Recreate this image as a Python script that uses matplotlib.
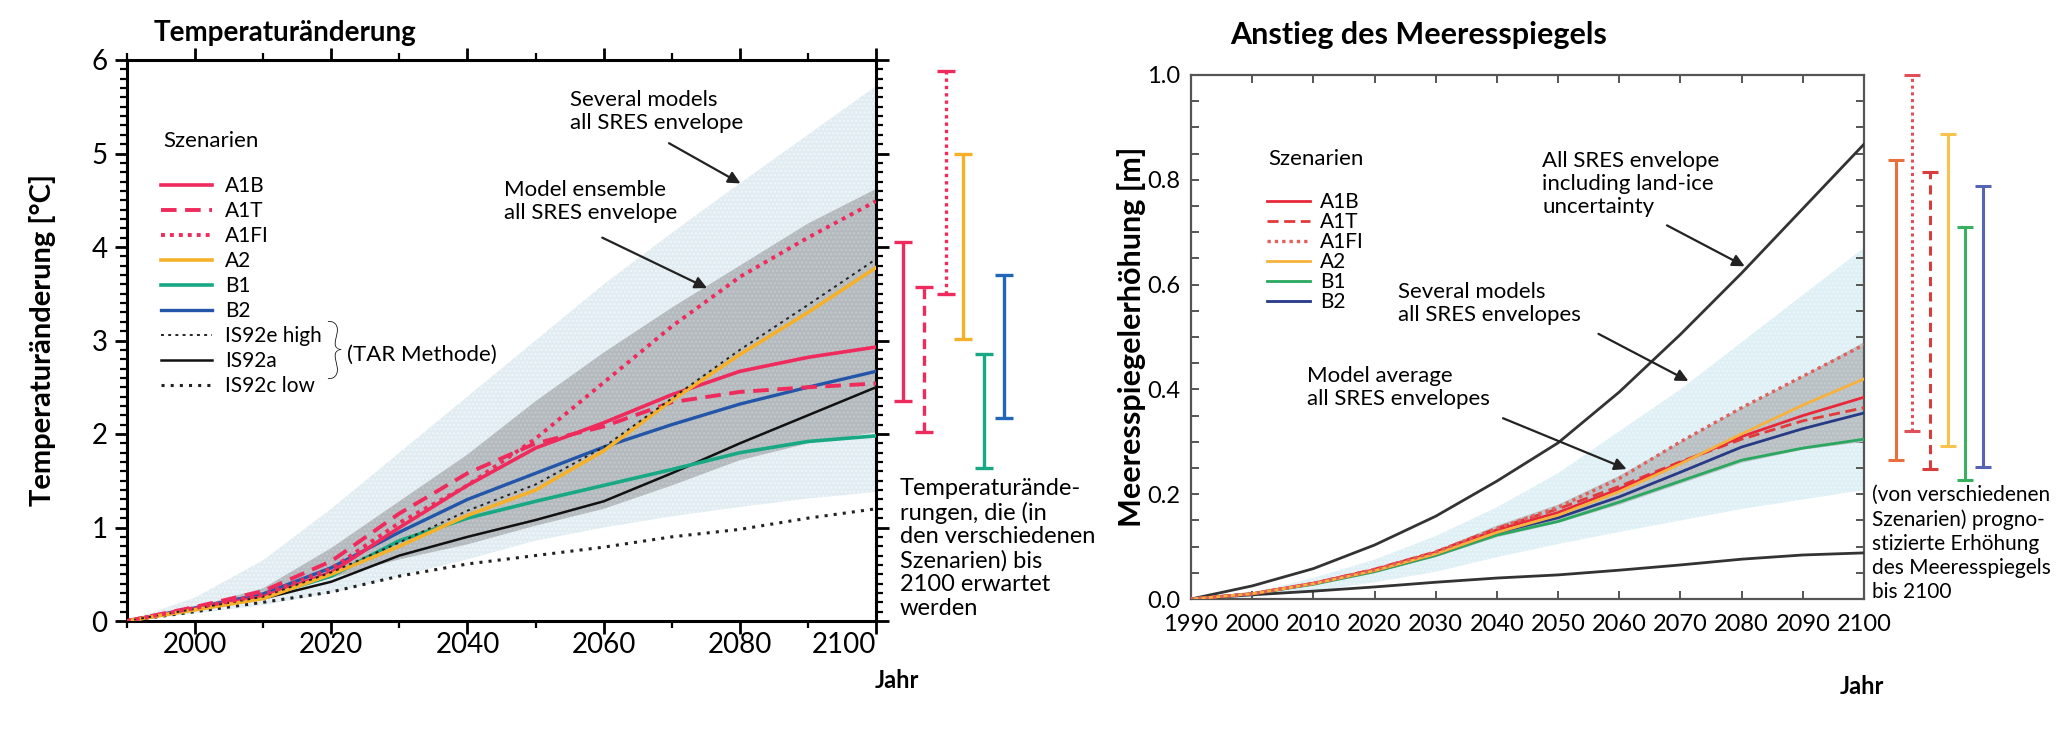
import matplotlib
matplotlib.use("Agg")
import matplotlib.pyplot as plt
from matplotlib.lines import Line2D
from matplotlib.ticker import MultipleLocator, FormatStrFormatter

plt.rcParams['font.family'] = ['Lato', 'DejaVu Sans']
plt.rcParams['hatch.linewidth'] = 1.2

# ---------------- data ----------------
years = [1990, 2000, 2010, 2020, 2030, 2040, 2050, 2060, 2070, 2080, 2090, 2100]

# temperature change [degC]
t_a1b = [0, 0.13, 0.26, 0.52, 1.00, 1.45, 1.85, 2.12, 2.42, 2.67, 2.82, 2.93]
t_a1t = [0, 0.15, 0.32, 0.64, 1.15, 1.58, 1.90, 2.08, 2.34, 2.45, 2.50, 2.54]
t_a1fi = [0, 0.14, 0.28, 0.56, 1.05, 1.45, 1.95, 2.55, 3.15, 3.68, 4.10, 4.49]
t_a2 = [0, 0.12, 0.24, 0.50, 0.80, 1.13, 1.40, 1.82, 2.36, 2.85, 3.30, 3.78]
t_b1 = [0, 0.13, 0.26, 0.48, 0.86, 1.10, 1.28, 1.45, 1.62, 1.80, 1.92, 1.98]
t_b2 = [0, 0.14, 0.29, 0.57, 0.95, 1.30, 1.58, 1.86, 2.10, 2.32, 2.50, 2.67]
t_is92e = [0, 0.13, 0.26, 0.52, 0.84, 1.18, 1.46, 1.86, 2.38, 2.90, 3.38, 3.87]
t_is92a = [0, 0.12, 0.24, 0.42, 0.70, 0.90, 1.08, 1.28, 1.58, 1.90, 2.20, 2.50]
t_is92c = [0, 0.10, 0.20, 0.31, 0.48, 0.61, 0.70, 0.79, 0.90, 0.98, 1.10, 1.20]
t_light_hi = [0, 0.25, 0.65, 1.20, 1.80, 2.40, 3.00, 3.60, 4.15, 4.68, 5.20, 5.72]
t_light_lo = [0, 0.08, 0.17, 0.30, 0.48, 0.66, 0.86, 1.00, 1.12, 1.22, 1.31, 1.38]
t_grey_hi = [0, 0.15, 0.35, 0.78, 1.28, 1.78, 2.35, 2.87, 3.35, 3.80, 4.25, 4.62]
t_grey_lo = [0, 0.12, 0.25, 0.46, 0.66, 0.82, 1.02, 1.20, 1.45, 1.72, 1.90, 2.02]

# 2100 ranges, temperature
t_scen = ['A1B', 'A1T', 'A1FI', 'A2', 'B1', 'B2']
t_range_lo = [2.35, 2.02, 3.50, 3.02, 1.64, 2.17]
t_range_hi = [4.05, 3.57, 5.88, 5.00, 2.86, 3.70]

# sea level rise [m]
s_a1b = [0, 0.010, 0.030, 0.056, 0.089, 0.132, 0.165, 0.210, 0.260, 0.310, 0.350, 0.385]
s_a1t = [0, 0.010, 0.030, 0.057, 0.090, 0.135, 0.172, 0.215, 0.262, 0.305, 0.340, 0.365]
s_a1fi = [0, 0.010, 0.030, 0.056, 0.090, 0.135, 0.175, 0.230, 0.300, 0.365, 0.425, 0.485]
s_a2 = [0, 0.010, 0.029, 0.054, 0.086, 0.127, 0.160, 0.205, 0.258, 0.315, 0.370, 0.420]
s_b1 = [0, 0.010, 0.028, 0.052, 0.083, 0.122, 0.148, 0.185, 0.225, 0.265, 0.288, 0.305]
s_b2 = [0, 0.010, 0.029, 0.054, 0.086, 0.127, 0.155, 0.195, 0.242, 0.290, 0.325, 0.355]
s_landice_hi = [0, 0.025, 0.058, 0.103, 0.158, 0.225, 0.298, 0.395, 0.505, 0.622, 0.745, 0.868]
s_landice_lo = [0, 0.008, 0.015, 0.023, 0.032, 0.040, 0.046, 0.055, 0.065, 0.076, 0.084, 0.088]
s_light_hi = [0, 0.012, 0.040, 0.075, 0.120, 0.175, 0.240, 0.320, 0.400, 0.490, 0.580, 0.670]
s_light_lo = [0, 0.004, 0.015, 0.032, 0.052, 0.080, 0.105, 0.128, 0.150, 0.172, 0.190, 0.208]
s_grey_hi = [0, 0.011, 0.031, 0.058, 0.092, 0.140, 0.180, 0.235, 0.300, 0.365, 0.425, 0.490]
s_grey_lo = [0, 0.009, 0.027, 0.050, 0.080, 0.118, 0.145, 0.180, 0.220, 0.260, 0.285, 0.300]

# 2100 ranges, sea level (order as drawn right of the panel)
s_scen = ['A1B', 'A1FI', 'A1T', 'A2', 'B1', 'B2']
s_range_lo = [0.265, 0.320, 0.248, 0.292, 0.228, 0.252]
s_range_hi = [0.838, 1.000, 0.814, 0.887, 0.709, 0.789]

# ---------------- styles ----------------
red = '#ef2a5c'
t_style = {
    'A1B': dict(color=red, ls='-', lw=2.6),
    'A1T': dict(color=red, ls=(0, (4, 2.2)), lw=2.8),
    'A1FI': dict(color=red, ls=(0, (1, 1.3)), lw=2.8),
    'A2': dict(color='#f6b12a', ls='-', lw=2.6),
    'B1': dict(color='#18a884', ls='-', lw=2.6),
    'B2': dict(color='#2356a8', ls='-', lw=2.4),
    'IS92e high': dict(color='#222222', ls=(0, (1.5, 2.2)), lw=1.4),
    'IS92a': dict(color='#111111', ls='-', lw=1.8),
    'IS92c low': dict(color='#222222', ls=(0, (1, 2)), lw=2.2),
}
s_style = {
    'A1B': dict(color='#e8283a', ls='-', lw=2.0),
    'A1T': dict(color='#e03a3a', ls=(0, (4, 2)), lw=2.0),
    'A1FI': dict(color='#e0605c', ls=(0, (1, 1.2)), lw=2.4),
    'A2': dict(color='#f6b23c', ls='-', lw=2.0),
    'B1': dict(color='#2aa860', ls='-', lw=2.0),
    'B2': dict(color='#263a86', ls='-', lw=2.0),
}
t_bar_style = {
    'A1B': dict(color=red, ls='-'),
    'A1T': dict(color=red, ls=(0, (3, 2))),
    'A1FI': dict(color=red, ls=(0, (1, 1.2))),
    'A2': dict(color='#f6b12a', ls='-'),
    'B1': dict(color='#18a884', ls='-'),
    'B2': dict(color='#2366b8', ls='-'),
}
s_bar_style = {
    'A1B': dict(color='#e8703c', ls='-'),
    'A1FI': dict(color='#e0505a', ls=(0, (1, 1.2))),
    'A1T': dict(color='#d83c3c', ls=(0, (3, 2))),
    'A2': dict(color='#f8c24e', ls='-'),
    'B1': dict(color='#38b060', ls='-'),
    'B2': dict(color='#5664b4', ls='-'),
}
# x positions (years) of the 2100 range bars, outside the axes
t_bar_x = [2104.0, 2107.1, 2110.3, 2112.8, 2115.9, 2118.8]
s_bar_x = [2105.2, 2107.8, 2110.8, 2113.7, 2116.5, 2119.5]

FS = 16
W, H = 2059, 736
fig = plt.figure(figsize=(W / 100, H / 100), dpi=100)
arrow = dict(arrowstyle='-|>', color='#222', lw=1.6, mutation_scale=18, shrinkA=0, shrinkB=0)

# ================= left panel =================
ax1 = fig.add_axes([127 / W, 1 - 621 / H, 749 / W, 561 / H])
ax1.set_xlim(1990, 2100)
ax1.set_ylim(0, 6)

ax1.fill_between(years, t_light_lo, t_light_hi, facecolor='#e0ecf1',
                 edgecolor='#f0f6f8', hatch='....', linewidth=0, zorder=1)
ax1.fill_between(years, t_grey_lo, t_grey_hi, facecolor='#b3b9bd',
                 edgecolor='#c3c8cb', hatch='....', linewidth=0, zorder=2)

t_series = [('IS92c low', t_is92c), ('IS92a', t_is92a), ('B1', t_b1), ('B2', t_b2),
            ('A1B', t_a1b), ('A1T', t_a1t), ('A2', t_a2), ('IS92e high', t_is92e),
            ('A1FI', t_a1fi)]
for name, vals in t_series:
    st = t_style[name]
    ax1.plot(years, vals, color=st['color'], linestyle=st['ls'], lw=st['lw'], zorder=3)

for xb, name, lo, hi in zip(t_bar_x, t_scen, t_range_lo, t_range_hi):
    st = t_bar_style[name]
    ax1.vlines(xb, lo, hi, colors=st['color'], linestyles=[st['ls']], lw=2.4, clip_on=False)
    ax1.plot([xb, xb], [lo, hi], ls='none', marker='_', ms=13, mew=2.4,
             color=st['color'], clip_on=False)

for s in ax1.spines.values():
    s.set_linewidth(2.2)
ax1.set_xticks(range(2000, 2101, 20))
ax1.xaxis.set_minor_locator(MultipleLocator(10))
ax1.yaxis.set_minor_locator(MultipleLocator(0.1))
ax1.tick_params(which='major', direction='out', length=9, width=2, labelsize=20,
                top=True, right=True)
ax1.tick_params(which='minor', direction='out', length=5, width=1.6,
                top=True, right=True)
ax1.tick_params(axis='x', which='major', pad=-1)
ax1.tick_params(axis='y', which='major', pad=5)
ax1.get_xticklabels()[-1].set_horizontalalignment('right')
ax1.set_ylabel('Temperaturänderung [°C]', fontsize=21, fontweight='bold')
ax1.yaxis.set_label_coords(-0.095, 0.5)

handles = [Line2D([], [], color=t_style[n]['color'], linestyle=t_style[n]['ls'],
                  lw=t_style[n]['lw']) for n in t_style]
ax1.legend(handles, list(t_style), loc='upper left', bbox_to_anchor=(0.046, 0.793),
           frameon=False, fontsize=15, handlelength=2.45, handletextpad=0.6,
           labelspacing=0.24, borderpad=0, borderaxespad=0)
ax1.text(1995.3, 5.13, 'Szenarien', fontsize=FS, va='center', ha='left')
ax1.text(2020.3, 2.86, '}', fontsize=48, fontweight='light', va='center', ha='center',
         color='black')
ax1.text(2022.3, 2.85, '(TAR Methode)', fontsize=FS, va='center', ha='left')

ax1.text(2055.1, 5.68, 'Several models\nall SRES envelope', fontsize=FS, va='top', linespacing=1.2)
ax1.annotate('', xy=(2080.1, 4.68), xytext=(2069.6, 5.11), arrowprops=arrow)
ax1.text(2045.3, 4.72, 'Model ensemble\nall SRES envelope', fontsize=FS, va='top', linespacing=1.2)
ax1.annotate('', xy=(2075.2, 3.56), xytext=(2059.8, 4.10), arrowprops=arrow)

fig.text(900 / W, 1 - 478 / H,
         'Temperaturände-\nrungen, die (in\nden verschiedenen\nSzenarien) bis\n2100 erwartet\nwerden',
         fontsize=17, va='top', ha='left', linespacing=1.15)
fig.text(154 / W, 1 - 33 / H, 'Temperaturänderung', fontsize=20, fontweight='bold',
         va='center', ha='left')
fig.text(897 / W, 1 - 680 / H, 'Jahr', fontsize=17, fontweight='bold', va='center', ha='center')

# ================= right panel =================
ax2 = fig.add_axes([1191 / W, 1 - 599 / H, 673 / W, 524 / H])
ax2.set_xlim(1990, 2100)
ax2.set_ylim(0, 1.0)

ax2.fill_between(years, s_light_lo, s_light_hi, facecolor='#def0f5',
                 edgecolor='#ebf6f9', hatch='....', linewidth=0, zorder=1)
ax2.fill_between(years, s_grey_lo, s_grey_hi, facecolor='#b9c0c4',
                 edgecolor='#c6ccce', hatch='....', linewidth=0, zorder=2)
ax2.plot(years, s_landice_hi, color='#333', lw=2.0, zorder=3)
ax2.plot(years, s_landice_lo, color='#333', lw=2.0, zorder=3)

s_series = [('B1', s_b1), ('B2', s_b2), ('A1T', s_a1t), ('A1B', s_a1b), ('A2', s_a2),
            ('A1FI', s_a1fi)]
for name, vals in s_series:
    st = s_style[name]
    ax2.plot(years, vals, color=st['color'], linestyle=st['ls'], lw=st['lw'], zorder=4)

for xb, name, lo, hi in zip(s_bar_x, s_scen, s_range_lo, s_range_hi):
    st = s_bar_style[name]
    ax2.vlines(xb, lo, hi, colors=st['color'], linestyles=[st['ls']], lw=2.2, clip_on=False)
    ax2.plot([xb, xb], [lo, hi], ls='none', marker='_', ms=11, mew=2.2,
             color=st['color'], clip_on=False)

for s in ax2.spines.values():
    s.set_linewidth(1.6)
    s.set_color('#555555')
ax2.set_xticks(range(1990, 2101, 10))
ax2.yaxis.set_major_locator(MultipleLocator(0.2))
ax2.yaxis.set_minor_locator(MultipleLocator(0.05))
ax2.yaxis.set_major_formatter(FormatStrFormatter('%.1f'))
ax2.tick_params(which='both', direction='in', length=6, width=1.4, color='#555555',
                labelsize=17, top=True, right=True)
ax2.tick_params(axis='x', pad=11)
ax2.tick_params(axis='y', pad=8)
ax2.set_ylabel('Meeresspiegelerhöhung [m]', fontsize=22, fontweight='bold')
ax2.yaxis.set_label_coords(-0.067, 0.5)

handles2 = [Line2D([], [], color=s_style[n]['color'], linestyle=s_style[n]['ls'],
                   lw=s_style[n]['lw']) for n in s_style]
ax2.legend(handles2, list(s_style), loc='upper left', bbox_to_anchor=(0.113, 0.776),
           frameon=False, fontsize=15, handlelength=2.05, handletextpad=0.5,
           labelspacing=0.0, borderpad=0, borderaxespad=0)
ax2.text(2002.6, 0.84, 'Szenarien', fontsize=FS, va='center', ha='left')

ax2.text(2047.4, 0.855, 'All SRES envelope\nincluding land-ice\nuncertainty', fontsize=FS,
         va='top', linespacing=1.2)
ax2.annotate('', xy=(2080.5, 0.635), xytext=(2067.8, 0.713), arrowprops=arrow)
ax2.text(2023.9, 0.605, 'Several models\nall SRES envelopes', fontsize=FS, va='top',
         linespacing=1.2)
ax2.annotate('', xy=(2071.3, 0.416), xytext=(2056.6, 0.506), arrowprops=arrow)
ax2.text(2008.9, 0.445, 'Model average\nall SRES envelopes', fontsize=FS, va='top',
         linespacing=1.2)
ax2.annotate('', xy=(2061.2, 0.248), xytext=(2041.0, 0.345), arrowprops=arrow)

fig.text(1872 / W, 1 - 485 / H,
         '(von verschiedenen\nSzenarien) progno-\nstizierte Erhöhung\ndes Meeresspiegels\nbis 2100',
         fontsize=15, va='top', ha='left', linespacing=1.25)
fig.text(1230 / W, 1 - 35 / H, 'Anstieg des Meeresspiegels', fontsize=22, fontweight='bold',
         va='center', ha='left')
fig.text(1862 / W, 1 - 687 / H, 'Jahr', fontsize=17, fontweight='bold', va='center', ha='center')

fig.savefig('out.png', dpi=100)
